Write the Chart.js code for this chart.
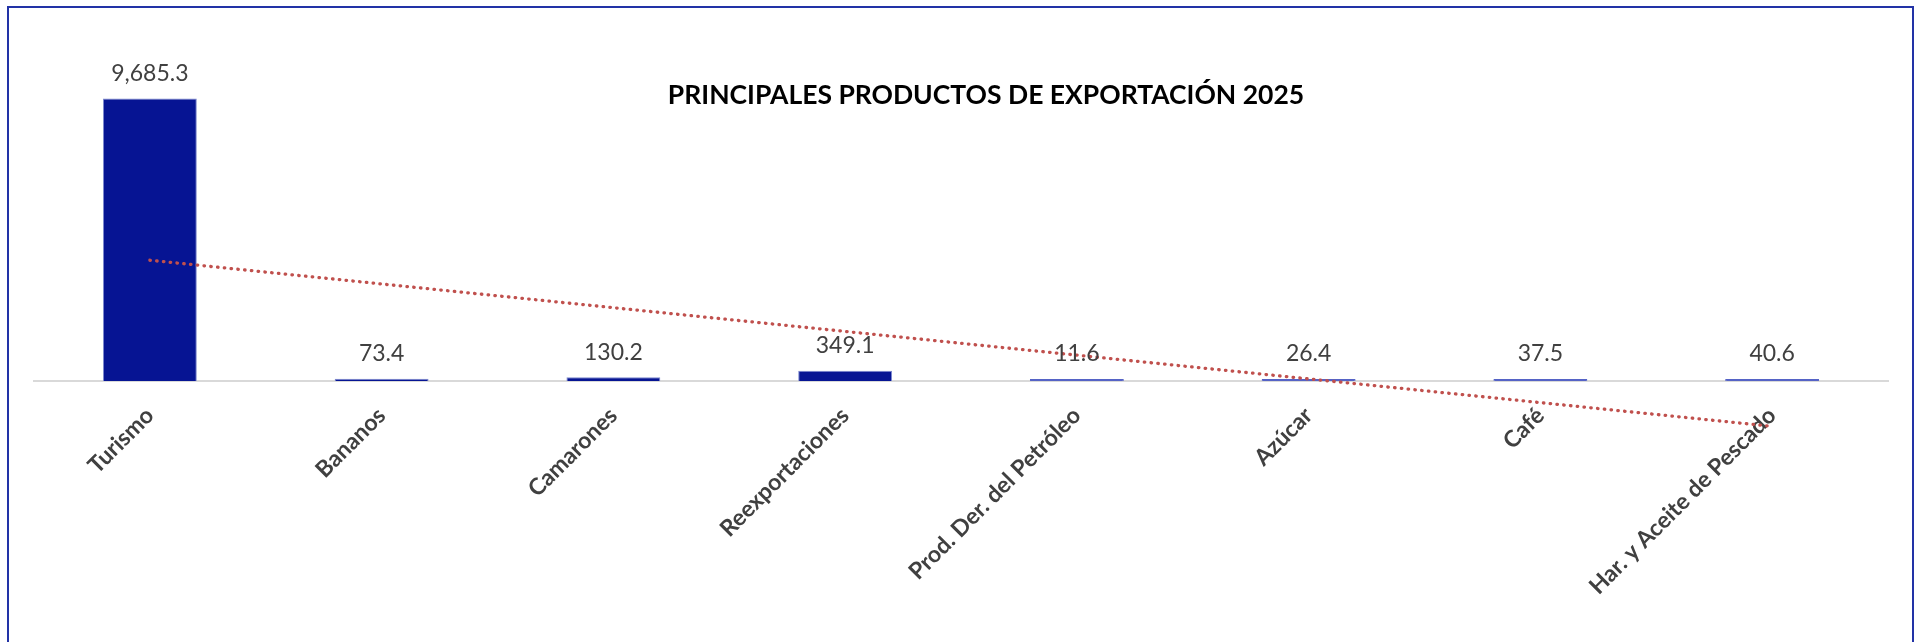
<!DOCTYPE html>
<html>
<head>
<meta charset="utf-8">
<script src="https://cdn.jsdelivr.net/npm/chart.js@4.4.0/dist/chart.umd.min.js"></script>
<style>
    html, body { margin: 0; padding: 0; background: #fff; }
    #wrap { position: relative; width: 1919px; height: 642px; overflow: hidden; }
    #frame { position: absolute; left: 7px; top: 6px; width: 1903px; height: 700px; border: 2px solid #2233a6; }
    #box { position: absolute; left: 0; top: 0; width: 1919px; height: 642px; }
</style>
</head>
<body>
<div id="wrap">
    <div id="frame"></div>
    <div id="box"><canvas id="chart"></canvas></div>
</div>
<script>
// datos del gráfico
const categories = ["Turismo", "Bananos", "Camarones", "Reexportaciones", "Prod. Der. del Petróleo", "Azúcar", "Café", "Har. y Aceite de Pescado"];
const exportValues = [9685.3, 73.4, 130.2, 349.1, 11.6, 26.4, 37.5, 40.6];
// línea de tendencia (extremos)
const trendValues = [4140, null, null, null, null, null, null, -1555];
const chartTitle = "PRINCIPALES PRODUCTOS DE EXPORTACIÓN 2025";

const barColors = ["#061493", "#061493", "#061493", "#061493", "#5563c6", "#5563c6", "#5563c6", "#5563c6"];
const barBorders = ["#7d88cf", "#7d88cf", "#7d88cf", "#7d88cf", "#5563c6", "#5563c6", "#5563c6", "#5563c6"];

function fmt(v) {
    return v.toLocaleString("en-US", { minimumFractionDigits: 1, maximumFractionDigits: 1 });
}

// etiquetas de valor encima de las barras
const valueLabels = {
    id: "valueLabels",
    afterDatasetsDraw(chart) {
        const ctx = chart.ctx;
        const meta = chart.getDatasetMeta(1);
        ctx.save();
        ctx.font = "23px Lato";
        ctx.fillStyle = "#404040";
        ctx.textAlign = "center";
        ctx.textBaseline = "middle";
        meta.data.forEach((bar, i) => {
            ctx.fillText(fmt(exportValues[i]), bar.x, bar.y - 25);
        });
        ctx.restore();
    }
};

// título dentro del área del gráfico
const innerTitle = {
    id: "innerTitle",
    afterDraw(chart) {
        const ctx = chart.ctx;
        ctx.save();
        ctx.font = "bold 26.5px Lato";
        ctx.fillStyle = "#000";
        ctx.textAlign = "center";
        ctx.textBaseline = "middle";
        ctx.fillText(chartTitle, 986, 95);
        ctx.restore();
    }
};

const context = document.getElementById("chart").getContext("2d");

new Chart(context, {
    data: {
        labels: categories,
        datasets: [
            {
                type: "line",
                label: "Tendencia",
                data: trendValues,
                spanGaps: true,
                borderColor: "#c0504d",
                borderWidth: 3.3,
                borderDash: [0.5, 6.3],
                borderCapStyle: "round",
                pointRadius: 0,
                clip: false,
                order: 0,
            },
            {
                type: "bar",
                label: "Exportaciones",
                data: exportValues,
                backgroundColor: barColors,
                borderColor: barBorders,
                borderWidth: 1,
                minBarLength: 2,
                barPercentage: 0.405,
                categoryPercentage: 1,
                order: 1,
            },
        ],
    },
    options: {
        responsive: true,
        maintainAspectRatio: false,
        animation: false,
        layout: { padding: { left: 34, right: 31, top: 31, bottom: 0 } },
        plugins: {
            legend: { display: false },
            tooltip: { enabled: false },
        },
        scales: {
            x: {
                grid: { display: false },
                border: { color: "#d9d9d9", width: 2 },
                ticks: {
                    autoSkip: false,
                    minRotation: 45,
                    maxRotation: 45,
                    padding: 13,
                    color: "#404040",
                    font: { family: "Lato", weight: "bold", size: 23 },
                },
                afterFit(scale) {
                    scale.height = 261;
                },
            },
            y: {
                display: false,
                min: 0,
                max: 12000,
            },
        },
    },
    plugins: [valueLabels, innerTitle],
});
</script>
</body>
</html>
